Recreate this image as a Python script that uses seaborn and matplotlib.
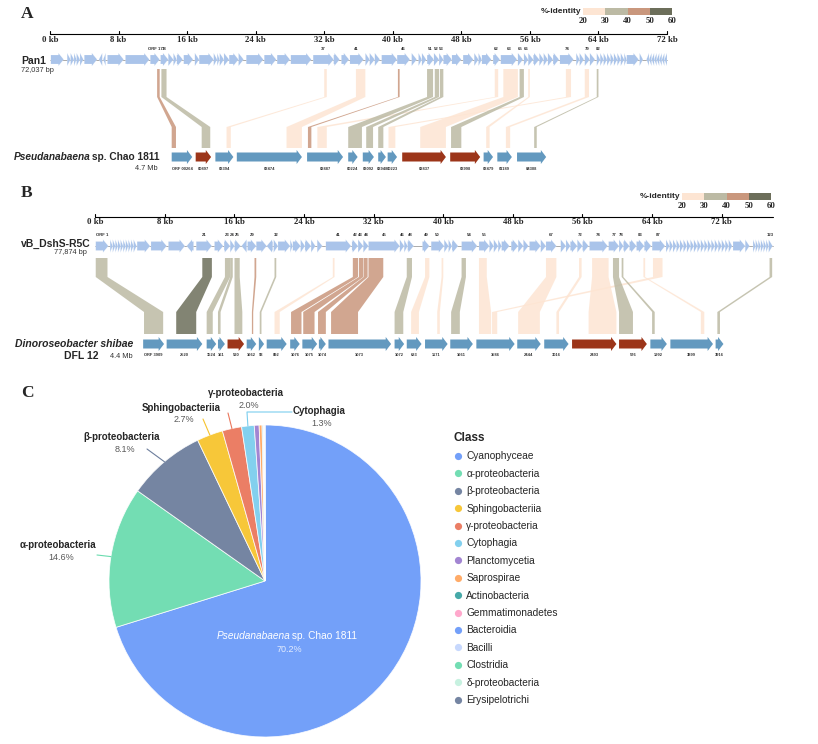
import matplotlib
matplotlib.use("Agg")
import numpy as np
import pandas as pd
import matplotlib.pyplot as plt
import matplotlib.transforms as mtransforms
from matplotlib.patches import Polygon
from matplotlib.lines import Line2D
from matplotlib.colors import ListedColormap
import seaborn as sns

# ---------------- panel A: Pan1 vs Pseudanabaena sp. Chao 1811 ----------------
# (start kb, end kb, strand, label)
pan1_genes = [
    (0.1, 1.6, 1, ""), (2.0, 2.4, 1, ""), (2.4, 2.8, 1, ""), (2.8, 3.1, 1, ""),
    (3.1, 3.5, 1, ""), (3.5, 3.9, 1, ""), (4.0, 5.5, 1, ""), (5.7, 6.1, -1, ""),
    (6.2, 6.5, -1, ""), (6.7, 8.6, 1, ""), (8.8, 11.6, 1, ""), (11.7, 12.8, 1, "ORF 17"),
    (12.9, 13.8, 1, "18"), (13.8, 14.4, 1, ""), (14.4, 14.8, 1, ""), (14.8, 15.5, 1, ""),
    (15.6, 16.7, 1, ""), (16.9, 17.4, 1, ""), (17.4, 19.1, 1, ""), (19.1, 19.5, 1, ""),
    (19.5, 19.8, 1, ""), (19.8, 20.3, 1, ""), (20.3, 20.9, 1, ""), (20.9, 22.0, 1, ""),
    (22.0, 22.6, 1, ""), (22.9, 24.9, 1, ""), (25.0, 26.4, 1, ""), (26.5, 28.0, 1, ""),
    (28.1, 30.5, 1, ""), (30.7, 33.1, 1, "37"), (33.1, 33.8, 1, ""), (34.0, 34.9, 1, ""),
    (35.0, 36.6, 1, "41"), (36.8, 37.3, 1, ""), (37.3, 37.9, 1, ""), (37.9, 38.5, 1, ""),
    (38.7, 40.5, 1, ""), (40.5, 42.0, 1, "46"), (42.2, 42.8, 1, ""), (43.0, 43.4, 1, ""),
    (43.4, 43.9, 1, ""), (44.0, 44.8, 1, "51"), (44.8, 45.4, 1, "52"), (45.4, 45.9, 1, "53"),
    (45.9, 46.9, 1, ""), (46.9, 48.0, 1, ""), (48.2, 49.4, 1, ""), (49.5, 50.0, 1, ""),
    (50.0, 50.4, 1, ""), (50.4, 51.5, 1, ""), (51.7, 52.5, 1, "62"), (52.6, 54.5, 1, "63"),
    (54.6, 55.2, 1, "65"), (55.3, 55.8, 1, "66"), (55.8, 56.4, 1, ""), (56.4, 57.1, 1, ""),
    (57.1, 57.6, 1, ""), (57.6, 58.1, 1, ""), (58.1, 58.7, 1, ""), (58.7, 59.4, 1, ""),
    (59.5, 61.1, 1, "74"), (61.4, 61.8, 1, ""), (61.8, 62.3, 1, ""), (62.4, 63.0, 1, "79"),
    (63.0, 63.6, 1, ""), (63.8, 64.2, 1, "82"), (64.2, 64.6, 1, ""), (64.6, 65.0, 1, ""),
    (65.0, 65.4, 1, ""), (65.4, 65.8, 1, ""), (65.8, 66.2, 1, ""), (66.2, 66.6, 1, ""),
    (66.6, 67.0, 1, ""), (67.0, 67.3, 1, ""), (67.3, 68.7, 1, ""), (68.8, 69.2, 1, ""),
    (69.6, 69.9, -1, ""), (69.9, 70.2, -1, ""), (70.2, 70.5, -1, ""), (70.5, 70.8, -1, ""),
    (70.8, 71.1, -1, ""), (71.1, 71.4, -1, ""), (71.4, 71.7, -1, ""), (71.7, 72.0, -1, ""),
]
pan1_length = 72.037

# (start, end, best hit in phage, label) shown on the bacterial track
chao_genes = [
    (14.2, 16.6, False, "ORF 00264"), (17.0, 18.8, True, "00897"), (19.3, 21.4, False, "03394"),
    (21.8, 29.4, False, "03474"), (30.0, 34.2, False, "02887"), (34.8, 35.9, False, "00224"),
    (36.5, 37.8, False, "03092"), (38.3, 39.2, False, "02948"), (39.4, 40.5, False, "00223"),
    (41.1, 46.2, True, "02837"), (46.7, 50.2, True, "03998"), (50.6, 51.7, False, "03479"),
    (52.2, 53.9, False, "01189"), (54.5, 57.9, False, "04308"),
]

# (phage start, phage end, host start, host end, %-identity)
links_A = [
    (12.5, 12.8, 14.2, 14.7, 45), (13.0, 13.6, 17.7, 18.7, 35), (32.0, 32.3, 20.6, 21.1, 25),
    (35.7, 36.8, 27.6, 29.4, 25), (40.6, 40.8, 30.1, 30.5, 45), (51.9, 52.3, 31.2, 32.3, 25),
    (44.0, 44.7, 34.8, 36.4, 35), (44.9, 45.4, 36.9, 37.7, 35), (45.5, 45.9, 38.3, 38.9, 35),
    (60.2, 60.8, 39.5, 40.3, 25), (52.9, 54.6, 43.2, 46.2, 25), (54.8, 55.3, 46.8, 48.0, 35),
    (55.8, 56.0, 50.9, 51.3, 25), (62.4, 62.9, 53.2, 53.7, 25), (63.8, 64.0, 56.5, 56.8, 35),
]

# ---------------- panel B: vB_DshS-R5C vs Dinoroseobacter shibae DFL 12 ----------------
r5c_genes = [
    (0.05, 1.5, 1, "ORF 1"), (1.7, 2.0, 1, ""), (2.0, 2.3, 1, ""), (2.3, 2.6, 1, ""),
    (2.6, 2.9, 1, ""), (2.9, 3.2, 1, ""), (3.2, 3.5, 1, ""), (3.5, 3.8, 1, ""),
    (3.8, 4.1, 1, ""), (4.1, 4.4, 1, ""), (4.4, 4.75, 1, ""), (4.8, 6.3, 1, ""),
    (6.4, 8.2, 1, ""), (8.4, 10.3, 1, ""), (10.5, 11.3, -1, ""), (11.6, 13.4, 1, "21"),
    (13.7, 14.7, 1, ""), (14.8, 15.5, 1, "23"), (15.5, 16.0, 1, "24"), (16.0, 16.7, 1, "25"),
    (16.8, 17.4, -1, ""), (17.5, 18.5, 1, "29"), (18.5, 19.7, 1, ""), (19.7, 20.4, -1, ""),
    (20.5, 21.0, 1, "32"), (21.0, 22.4, 1, ""), (22.4, 22.7, 1, ""), (22.7, 23.6, 1, ""),
    (23.6, 24.1, 1, ""), (24.1, 24.8, 1, ""), (24.8, 25.3, 1, ""), (25.5, 26.1, 1, ""),
    (26.5, 29.4, 1, "41"), (29.5, 30.2, 1, "42"), (30.2, 30.8, 1, "43"), (30.8, 31.4, 1, "44"),
    (31.4, 35.0, 1, "45"), (35.0, 35.5, 1, "46"), (35.5, 35.9, 1, ""), (35.9, 36.6, 1, "48"),
    (37.6, 38.4, 1, "49"), (38.6, 40.1, 1, "50"), (40.1, 40.6, 1, ""), (40.6, 41.0, 1, ""),
    (41.0, 41.7, 1, ""), (42.1, 43.9, 1, "54"), (44.1, 45.3, 1, "55"), (45.3, 45.8, 1, ""),
    (45.8, 46.3, 1, ""), (46.3, 46.7, 1, ""), (46.7, 47.6, 1, ""), (47.8, 48.6, 1, ""),
    (48.6, 49.2, 1, ""), (49.2, 49.8, 1, ""), (49.9, 51.2, 1, ""), (51.2, 51.8, 1, ""),
    (51.8, 53.0, 1, "67"), (53.5, 54.1, 1, ""), (54.1, 54.6, 1, ""), (54.6, 55.4, 1, ""),
    (55.4, 56.0, 1, "72"), (56.0, 56.7, 1, ""), (56.8, 58.9, 1, "74"), (59.0, 60.2, 1, "77"),
    (60.2, 60.7, 1, "78"), (60.7, 61.4, 1, ""), (61.4, 62.2, 1, ""), (62.2, 63.1, 1, "83"),
    (63.1, 63.9, 1, ""), (64.0, 65.5, 1, "87"), (65.6, 66.0, 1, ""), (66.0, 66.4, 1, ""),
    (66.4, 66.8, 1, ""), (66.8, 67.2, 1, ""), (67.2, 67.6, 1, ""), (67.6, 68.0, 1, ""),
    (68.0, 68.4, 1, ""), (68.4, 68.8, 1, ""), (68.8, 69.2, 1, ""), (69.2, 69.6, 1, ""),
    (69.6, 70.0, 1, ""), (70.0, 70.4, 1, ""), (70.4, 70.8, 1, ""), (70.8, 71.2, 1, ""),
    (71.2, 71.6, 1, ""), (71.6, 72.0, 1, ""), (72.0, 72.4, 1, ""), (72.4, 72.8, 1, ""),
    (72.8, 73.2, 1, ""), (73.3, 74.7, 1, ""), (74.7, 75.2, 1, ""), (75.6, 75.9, 1, ""),
    (75.9, 76.2, 1, ""), (76.2, 76.5, 1, ""), (76.5, 76.8, 1, ""), (76.8, 77.1, 1, ""),
    (77.1, 77.4, 1, ""), (77.4, 77.85, 1, "123"),
]
r5c_length = 77.874

dfl_genes = [
    (5.5, 7.9, False, "ORF 3909"), (8.2, 12.3, False, "2520"), (12.8, 13.9, False, "1524"),
    (14.1, 14.9, False, "161"), (15.2, 17.1, True, "590"), (17.4, 18.5, False, "1662"),
    (18.8, 19.4, False, "93"), (19.7, 22.0, False, "892"), (22.4, 23.5, False, "1076"),
    (23.8, 25.5, False, "1075"), (25.7, 26.5, False, "1074"), (26.8, 34.0, False, "1073"),
    (34.4, 35.5, False, "1072"), (35.8, 37.5, False, "683"), (37.9, 40.5, False, "1171"),
    (40.8, 43.4, False, "1661"), (43.8, 48.2, False, "3586"), (48.5, 51.2, False, "2444"),
    (51.6, 54.4, False, "3016"), (54.8, 59.9, True, "2493"), (60.2, 63.4, True, "576"),
    (63.8, 65.7, False, "1992"), (66.1, 71.0, False, "3899"), (71.3, 72.2, False, "3916"),
]

links_B = [
    (0.05, 1.4, 5.6, 7.8, 35), (12.3, 13.4, 9.3, 11.6, 55), (14.9, 15.5, 12.8, 13.5, 35),
    (15.5, 15.8, 14.1, 14.4, 35), (16.0, 16.6, 16.0, 16.9, 35), (18.3, 18.5, 18.0, 18.15, 45),
    (20.6, 20.8, 18.9, 19.1, 35), (27.3, 27.5, 20.6, 21.2, 25), (29.6, 30.2, 22.5, 23.7, 45),
    (30.3, 30.8, 23.9, 25.2, 45), (30.85, 31.3, 25.6, 26.5, 45), (31.4, 33.1, 27.1, 30.2, 45),
    (35.8, 36.4, 34.4, 35.4, 35), (37.9, 38.4, 36.3, 37.2, 25), (39.8, 40.0, 39.3, 39.6, 25),
    (42.1, 42.6, 40.9, 41.9, 35), (44.1, 45.0, 44.1, 45.5, 25), (64.1, 65.2, 45.6, 46.2, 25),
    (51.8, 53.0, 48.6, 51.1, 25), (55.6, 55.9, 53.0, 53.3, 25), (57.1, 59.0, 56.7, 59.9, 25),
    (59.5, 60.2, 60.2, 61.8, 35), (60.5, 60.7, 64.0, 64.3, 35), (63.0, 63.2, 69.6, 70.0, 25),
    (77.5, 77.8, 71.5, 71.8, 35),
]

identity_ticks = [20, 30, 40, 50, 60]
identity_colors = ["#FDE5D3", "#BCBAA4", "#C9977D", "#6C6E5A"]

# ---------------- panel C: host class distribution ----------------
classes = ["Cyanophyceae", "α-proteobacteria", "β-proteobacteria", "Sphingobacteriia",
           "γ-proteobacteria", "Cytophagia", "Planctomycetia", "Saprospirae", "Actinobacteria",
           "Gemmatimonadetes", "Bacteroidia", "Bacilli", "Clostridia", "δ-proteobacteria",
           "Erysipelotrichi"]
shares = [70.2, 14.6, 8.1, 2.7, 2.0, 1.3, 0.5, 0.3, 0.1, 0.05, 0.05, 0.03, 0.03, 0.02, 0.02]
class_colors = ["#5B8FF9", "#5AD8A6", "#5D7092", "#F6BD16", "#E8684A", "#6DC8EC", "#9270CA",
                "#FF9D4D", "#269A99", "#FF99C3", "#5B8FF9", "#BDD2FD", "#5AD8A6", "#BDEFDB",
                "#5D7092"]

# ---------------------------------------------------------------------------
sns.set_theme(style="white")
plt.rcParams["font.family"] = ["Liberation Sans", "DejaVu Sans"]

W, H = 818, 744
fig = plt.figure(figsize=(W / 100, H / 100), dpi=100)
pix = mtransforms.Affine2D().scale(1 / W, -1 / H).translate(0, 1) + fig.transFigure
SERIF = ["Liberation Serif", "DejaVu Serif"]
BLUE_TOP, BLUE_BOT, RED_BOT = "#AAC4EA", "#6399BF", "#9C3519"


def ident_color(v):
    return identity_colors[min(int((v - 20) // 10), 3)]


def arrow(x0, x1, strand, yc, hl, body, head):
    h = min(hl, x1 - x0)
    if strand > 0:
        xs = [x0, x1 - h, x1 - h, x1, x1 - h, x1 - h, x0]
    else:
        xs = [x1, x0 + h, x0 + h, x0, x0 + h, x0 + h, x1]
    ys = [yc - body / 2, yc - body / 2, yc - head / 2, yc, yc + head / 2, yc + body / 2, yc + body / 2]
    return list(zip(xs, ys))


def mixed_text(x, y, parts, ha="left", **kw):
    r = fig.canvas.get_renderer()
    objs = [fig.text(x, y, s, transform=pix, va="center", ha="left", **kw, **st) for s, st in parts]
    widths = [o.get_window_extent(r).width - 1.5 for o in objs]
    cur = x - (sum(widths) / 2 if ha == "center" else sum(widths) if ha == "right" else 0)
    for o, w in zip(objs, widths):
        o.set_x(cur)
        cur += w


def draw_panel(ax, top_genes, top_len, bot_genes, links, lay):
    y1, y2, y3, y4 = lay["links"]
    for t0, t1, b0, b1, v in links:
        pts = [(t0, y1), (t1, y1), (t1, y2), (b1, y3), (b1, y4), (b0, y4), (b0, y3), (t0, y2)]
        ax.add_patch(Polygon(pts, closed=True, facecolor=ident_color(v), edgecolor="none", alpha=0.85))
    yr = lay["ruler"]
    ax.plot([0, top_len], [yr, yr], color="black", lw=0.8)
    for k in range(0, 73, 8):
        ax.plot([k, k], [yr, yr - 2.8], color="black", lw=0.8)
        ax.text(k, yr + 5.5, f"{k} kb", ha="center", va="center", fontsize=6.3,
                fontweight="bold", family=SERIF)
    yt = lay["top"]
    ax.plot([0, top_len], [yt, yt], color="#8a8a8a", lw=0.5, zorder=1)
    for s, e, strand, lab in top_genes:
        ax.add_patch(Polygon(arrow(s, e, strand, yt, 0.62, 9, 13), facecolor=BLUE_TOP,
                             edgecolor="white", lw=0.12, zorder=2))
        if lab:
            ax.text((s + e) / 2, yt - 11, lab, ha="center", va="center", fontsize=3.1,
                    fontweight="bold", color="#333333")
    yb = lay["bottom"]
    for s, e, red, lab in bot_genes:
        ax.add_patch(Polygon(arrow(s, e, 1, yb, 0.62, 9, 14), facecolor=RED_BOT if red else BLUE_BOT,
                             edgecolor="none", zorder=2))
        ax.text((s + e) / 2, yb + 11.5, lab, ha="center", va="center", fontsize=2.9,
                fontweight="bold", color="#333333")


def panel_axes(top_px, bot_px, zero_px, px_per_kb):
    ax = fig.add_axes([0, 1 - bot_px / H, 1, (bot_px - top_px) / H])
    ax.set_xlim(-zero_px / px_per_kb, (W - zero_px) / px_per_kb)
    ax.set_ylim(bot_px, top_px)
    ax.axis("off")
    return ax


def identity_key(x0, y0, x1, y1):
    axk = fig.add_axes([x0 / W, 1 - y1 / H, (x1 - x0) / W, (y1 - y0) / H])
    sns.heatmap(np.array([[25, 35, 45, 55]]), cmap=ListedColormap(identity_colors), vmin=20, vmax=60,
                cbar=False, ax=axk, xticklabels=False, yticklabels=False)
    for i, t in enumerate(identity_ticks):
        axk.text(i, 1 + 6.0 / (y1 - y0), str(t), ha="center", va="center", fontsize=6.3,
                 fontweight="bold", family=SERIF)
    fig.text(x0 - 2, (y0 + y1) / 2, "%-identity", transform=pix, ha="right", va="center",
             fontsize=6, fontweight="bold")


# ---- panel A ----
axA = panel_axes(0, 180, 50, 617 / 72)
draw_panel(axA, pan1_genes, pan1_length, chao_genes, links_A,
           dict(ruler=34, top=59.5, bottom=157, links=(69, 97, 127, 148)))
identity_key(583, 8, 672, 15)
fig.text(21, 14, "A", transform=pix, fontsize=12.5, fontweight="bold", family=SERIF, va="center")
fig.text(21, 61, "Pan1", transform=pix, fontsize=7.5, fontweight="bold", va="center")
fig.text(21, 71, "72,037 bp", transform=pix, fontsize=5.3, va="center", color="#333333")
mixed_text(158, 157, [("Pseudanabaena", dict(style="italic", fontweight="bold")),
                      (" sp. Chao 1811", dict(fontweight="bold"))], ha="right", fontsize=7.3)
fig.text(158, 168, "4.7 Mb", transform=pix, fontsize=5.3, va="center", ha="right", color="#333333")

# ---- panel B ----
axB = panel_axes(180, 372, 95.3, 626.4 / 72)
draw_panel(axB, r5c_genes, r5c_length, dfl_genes, links_B,
           dict(ruler=217, top=246, bottom=344, links=(258, 277, 312, 334)))
identity_key(682, 193, 771, 200)
fig.text(21, 193, "B", transform=pix, fontsize=12.5, fontweight="bold", family=SERIF, va="center")
fig.text(21, 244, "vB_DshS-R5C", transform=pix, fontsize=7.5, fontweight="bold", va="center")
fig.text(87, 253, "77,874 bp", transform=pix, fontsize=5.3, va="center", ha="right", color="#333333")
fig.text(133, 344, "Dinoroseobacter shibae", transform=pix, fontsize=7.5, fontweight="bold",
         style="italic", va="center", ha="right")
fig.text(81, 356, "DFL 12", transform=pix, fontsize=7.5, fontweight="bold", va="center", ha="center")
fig.text(133, 356, "4.4 Mb", transform=pix, fontsize=5.3, va="center", ha="right", color="#333333")

# ---- panel C ----
CX, CY, R = 265, 581, 156
axC = fig.add_axes([(CX - R) / W, 1 - (CY + R) / H, 2 * R / W, 2 * R / H])
wedges, _ = axC.pie(shares, colors=class_colors, startangle=90, counterclock=False,
                    wedgeprops=dict(edgecolor="white", linewidth=0.6, alpha=0.85))
axC.set_xlim(-1, 1)
axC.set_ylim(-1, 1)
for w in wedges:
    w.set_clip_on(False)
fig.text(21, 393, "C", transform=pix, fontsize=12.5, fontweight="bold", family=SERIF, va="center")

# outside labels: class index -> (name pos, leader end points) in pixels
label_layout = {
    1: ((58, 545), [(97, 555)]),
    2: ((122, 437), [(147, 449)]),
    3: ((181, 408), [(203, 419)]),
    4: ((246, 393), [(228, 413)]),
    5: ((319, 411), [(247, 412), (292, 412)]),
}
cum = np.cumsum([0] + shares)
for i, (npos, pts) in label_layout.items():
    mid = (cum[i] + cum[i + 1]) / 2 / 100 * 360
    ang = np.deg2rad(90 - mid)
    sx, sy = CX + R * np.cos(ang), CY - R * np.sin(ang)
    xs = [sx] + [p[0] for p in pts]
    ys = [sy] + [p[1] for p in pts]
    fig.add_artist(Line2D(xs, ys, transform=pix, color=class_colors[i], lw=0.8, alpha=0.9))
    fig.text(npos[0], npos[1], classes[i], transform=pix, ha="center", va="center",
             fontsize=7, fontweight="bold")
    fig.text(npos[0] + 3, npos[1] + 12, f"{shares[i]:.1f}%", transform=pix, ha="center",
             va="center", fontsize=6.5, color="#595959")

mixed_text(286, 636, [("Pseudanabaena", dict(style="italic")), (" sp. Chao 1811", {})],
           ha="center", fontsize=7.3, color="white")
fig.text(289, 650, f"{shares[0]:.1f}%", transform=pix, ha="center", va="center", fontsize=6.5,
         color="white", alpha=0.8)

handles = [Line2D([], [], marker="o", ls="none", markersize=5.2, markerfacecolor=c,
                  markeredgecolor="none", alpha=0.85) for c in class_colors]
leg = axC.legend(handles, classes, title="Class", loc="upper left", frameon=False,
                 bbox_to_anchor=(448 / W, 1 - 427 / H), bbox_transform=fig.transFigure,
                 prop=dict(family=["Liberation Sans", "DejaVu Sans"], size=7.3), labelspacing=0.73,
                 handletextpad=0.3, handlelength=1.0, borderpad=0, alignment="left")
leg.get_title().set_fontweight("bold")
leg.get_title().set_fontsize(8.5)

fig.savefig("out.png", dpi=100, facecolor="white")
